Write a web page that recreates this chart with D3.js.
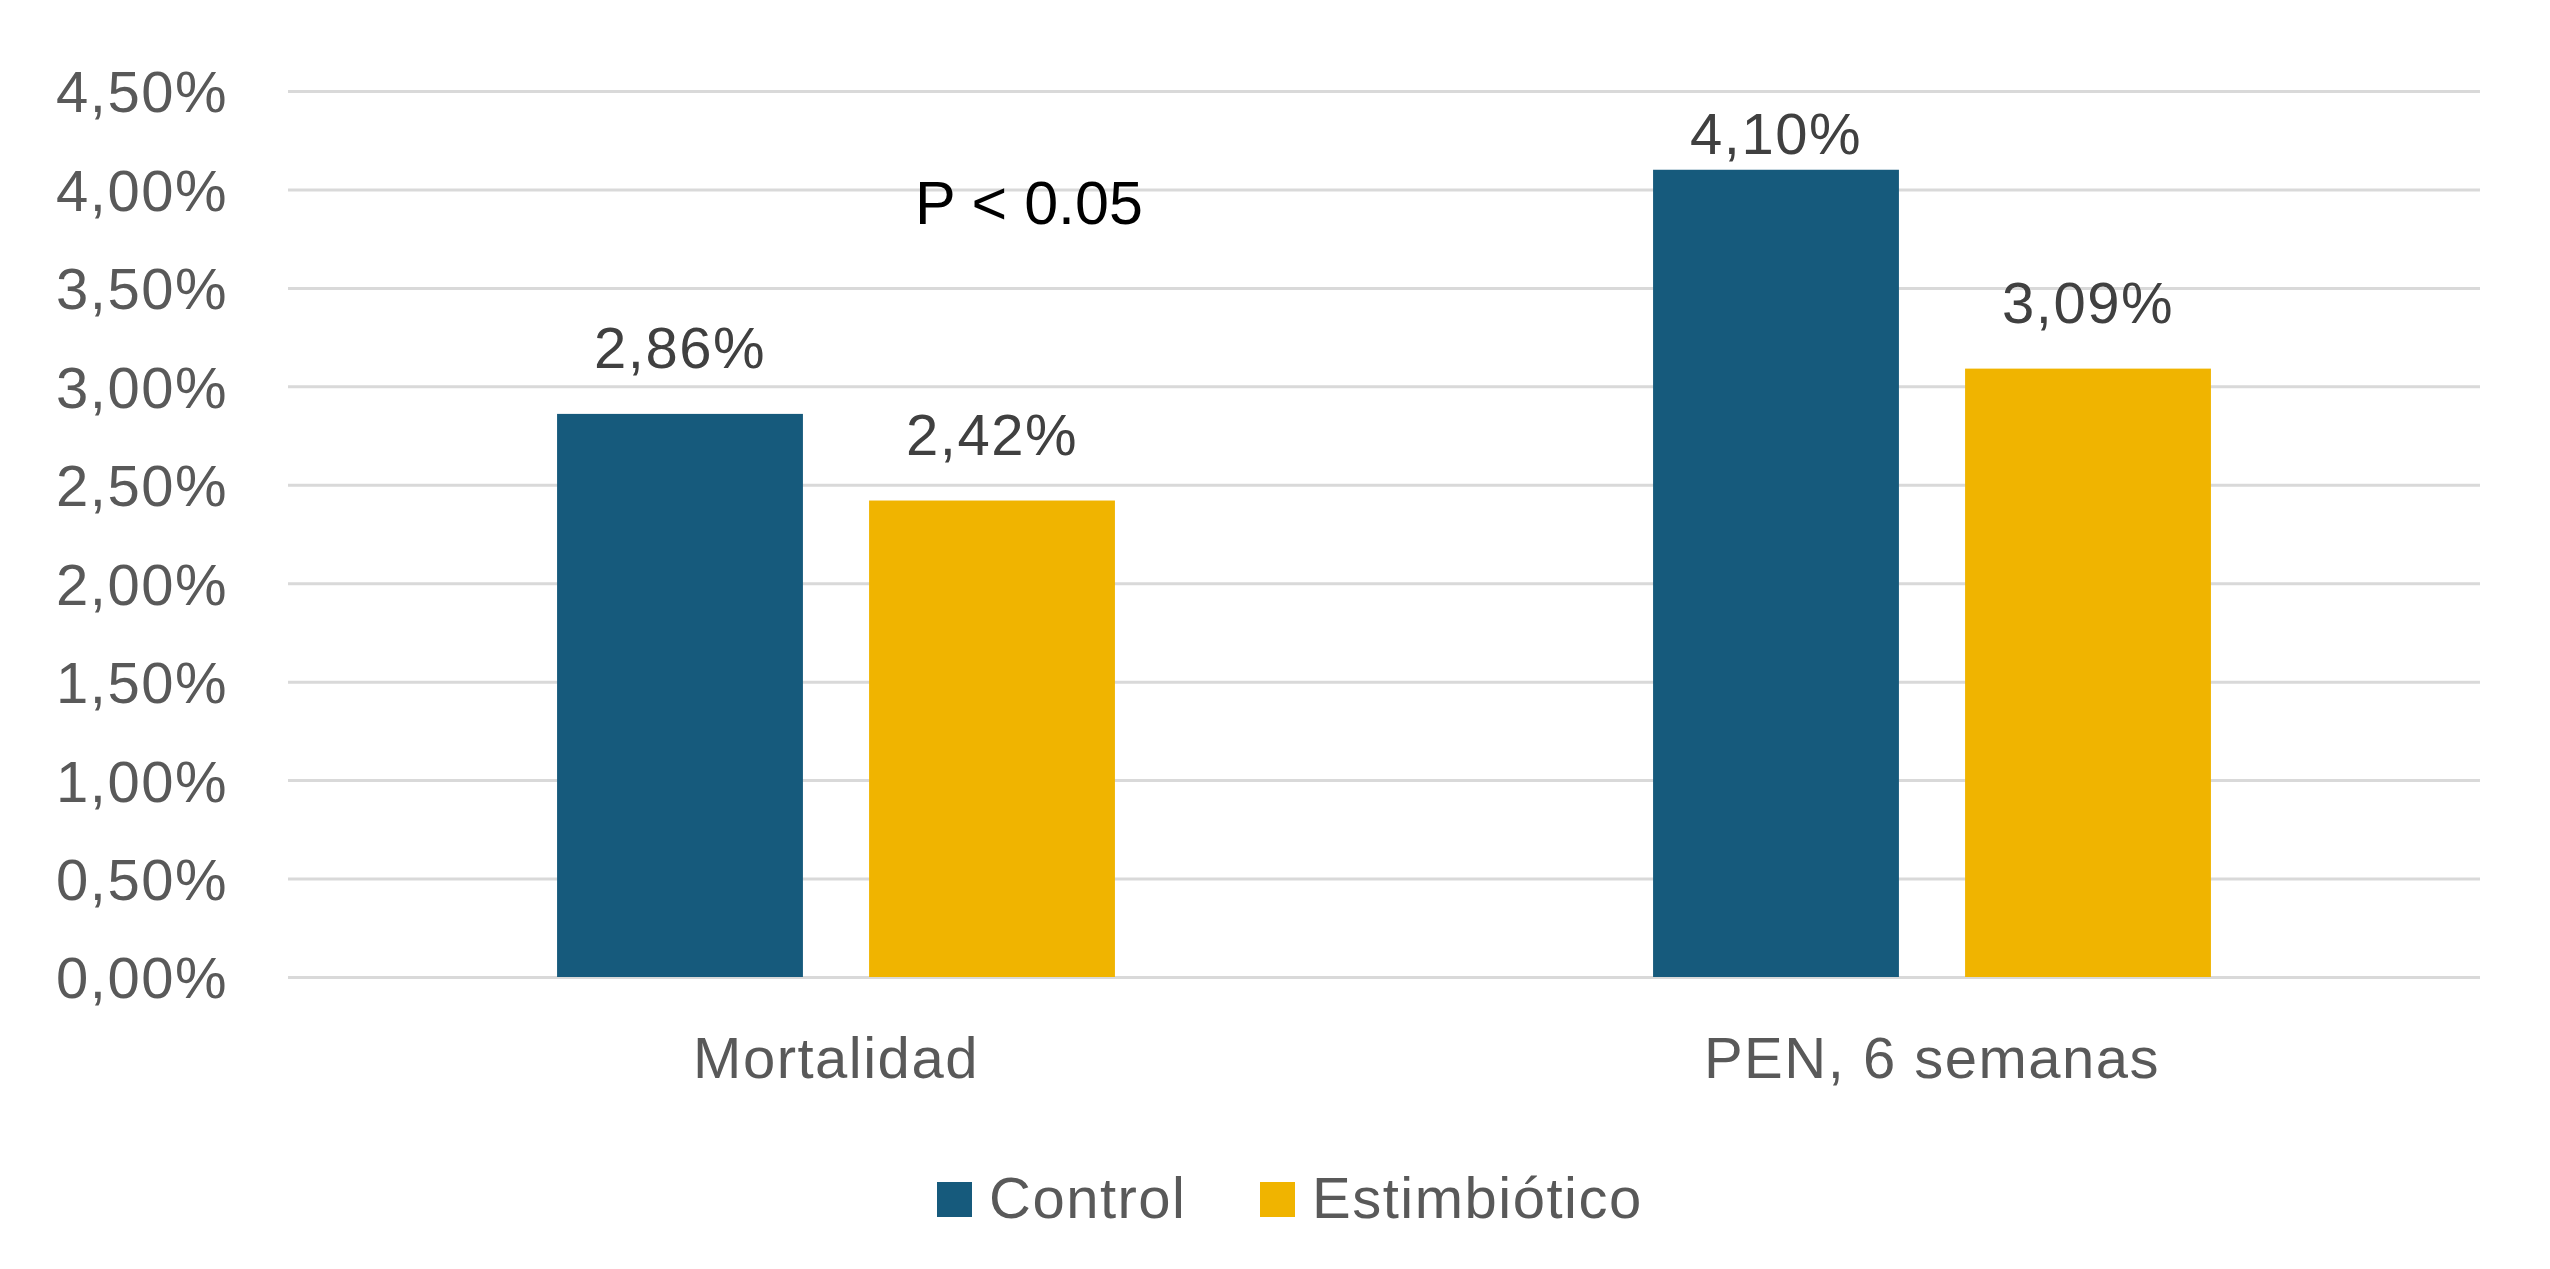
<!DOCTYPE html>
<html>
<head>
<meta charset="utf-8">
<script src="https://cdn.jsdelivr.net/npm/d3@7"></script>
<style>
  body { margin: 0; background: #fff; }
  svg text { font-family: "Liberation Sans", Arial, sans-serif; }
  .axis .domain { display: none; }
  .y-axis line { stroke: #d9d9d9; stroke-width: 3; }
  .axis text { fill: #595959; font-size: 58px; letter-spacing: 1.5px; }
</style>
</head>
<body>
<svg id="chart"></svg>
<script>
// chart values
const categories = ['Mortalidad', 'PEN, 6 semanas'];
const seriesNames = ['Control', 'Estimbiótico'];
const controlValues = [0.0286, 0.0410];
const estimValues = [0.0242, 0.0309];
const valueLabels = [['2,86%', '4,10%'], ['2,42%', '3,09%']];
const yTicks = [0, 0.005, 0.01, 0.015, 0.02, 0.025, 0.03, 0.035, 0.04, 0.045];
const yTickLabels = ['0,00%', '0,50%', '1,00%', '1,50%', '2,00%', '2,50%', '3,00%', '3,50%', '4,00%', '4,50%'];
const noteText = 'P < 0.05';
const colors = ['#165a7c', '#f0b400'];

const W = 2550, H = 1269;
const margin = { top: 91, right: 70, bottom: 292, left: 288 };
const width = W - margin.left - margin.right;
const height = H - margin.top - margin.bottom;

const svg = d3.select('#chart').attr('width', W).attr('height', H);
const chart = svg.append('g').attr('transform', `translate(${margin.left},${margin.top})`);

const rows = categories.map((c, i) => ({
  cat: c,
  vals: [controlValues[i], estimValues[i]],
  labels: [valueLabels[0][i], valueLabels[1][i]]
}));

const x0 = d3.scaleBand().domain(categories).range([0, width]).paddingInner(0.491).paddingOuter(0.2455);
const x1 = d3.scaleBand().domain(seriesNames).range([0, x0.bandwidth()]).paddingInner(0.212);
const y = d3.scaleLinear().domain([0, 0.045]).range([height, 0]);

// gridlines + tick labels
const yAxis = d3.axisLeft(y)
  .tickValues(yTicks)
  .tickFormat((d, i) => yTickLabels[i])
  .tickSize(-width)
  .tickPadding(60);
chart.append('g').attr('class', 'axis y-axis').call(yAxis)
  .selectAll('text').attr('dy', '0.36em');

// x axis labels
const xAxis = d3.axisBottom(x0).tickSize(0).tickPadding(60);
chart.append('g').attr('class', 'axis x-axis')
  .attr('transform', `translate(0,${height})`)
  .call(xAxis);

// bars
const groups = chart.selectAll('.grp').data(rows).join('g')
  .attr('class', 'grp')
  .attr('transform', d => `translate(${x0(d.cat)},0)`);

groups.selectAll('rect')
  .data(d => d.vals.map((v, j) => ({ s: seriesNames[j], v: v, j: j })))
  .join('rect')
  .attr('x', d => x1(d.s))
  .attr('y', d => y(d.v))
  .attr('width', x1.bandwidth())
  .attr('height', d => height - y(d.v))
  .attr('fill', d => colors[d.j]);

// data labels (kept inside the plot area like Excel does)
groups.selectAll('.val')
  .data(d => d.vals.map((v, j) => ({ s: seriesNames[j], v: v, lab: d.labels[j] })))
  .join('text')
  .attr('class', 'val')
  .attr('x', d => x1(d.s) + x1.bandwidth() / 2)
  .attr('y', d => Math.max(y(d.v) - 46, 63))
  .attr('text-anchor', 'middle')
  .style('font-size', '58px')
  .style('letter-spacing', '1.5px')
  .style('fill', '#404040')
  .text(d => d.lab);

// significance note
chart.append('text')
  .attr('x', x0('Mortalidad') + x0.bandwidth() / 2 + 193)
  .attr('y', 133)
  .attr('text-anchor', 'middle')
  .style('font-size', '61px')
  .style('fill', '#000')
  .text(noteText);

// legend
const legend = svg.append('g').attr('transform', 'translate(937,1182)');
const legendX = [0, 323];
seriesNames.forEach((s, i) => {
  const g = legend.append('g').attr('transform', `translate(${legendX[i]},0)`);
  g.append('rect').attr('width', 35).attr('height', 35).attr('fill', colors[i]);
  g.append('text')
    .attr('x', 52)
    .attr('y', 36)
    .style('font-size', '58px')
    .style('letter-spacing', '1.5px')
    .style('fill', '#595959')
    .text(s);
});
</script>
</body>
</html>
